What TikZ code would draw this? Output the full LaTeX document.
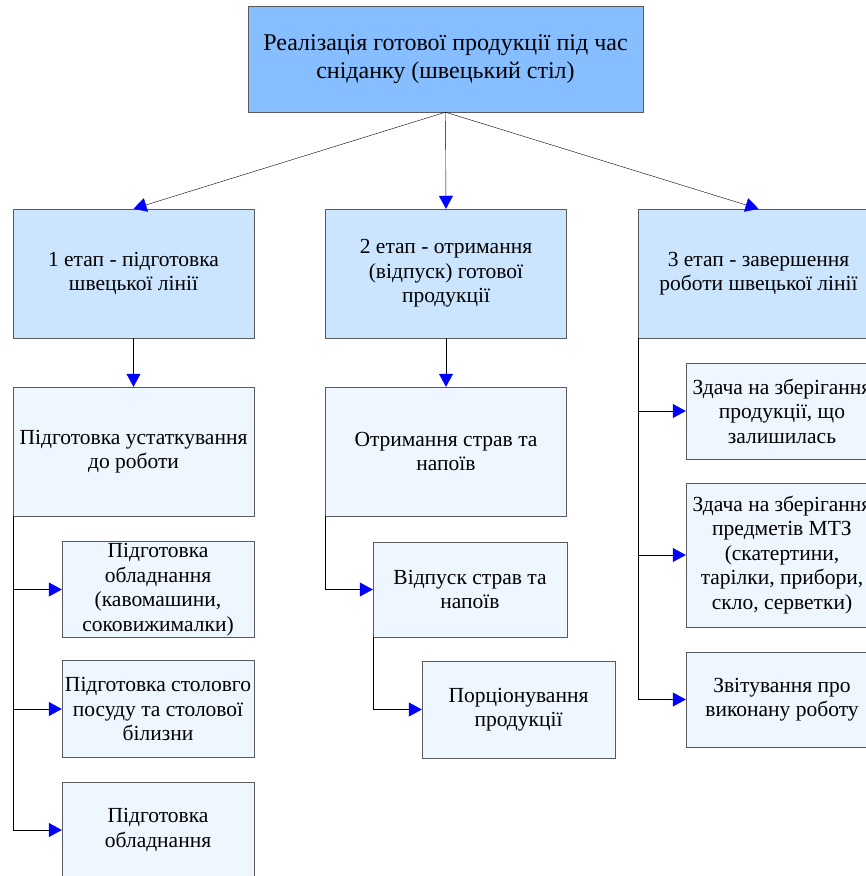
\documentclass[tikz,border=0pt]{standalone}
\usepackage{fontspec}
\setmainfont{Liberation Serif}
\usetikzlibrary{arrows.meta}
\definecolor{mytopcolor}{HTML}{87BEFF}
\definecolor{mystagecolor}{HTML}{CCE5FF}
\definecolor{mystepcolor}{HTML}{EEF6FF}
\definecolor{myedgecolor}{HTML}{5A5A5A}
\tikzset{
  box/.style={draw=myedgecolor, rectangle, align=center, inner sep=0pt, font=\fontsize{21.5pt}{24.5pt}\selectfont},
  arr/.style={draw=black, -{Triangle[color=blue, length=13pt, width=14pt]}},
}

\begin{document}
\begin{tikzpicture}[x=1pt, y=-1pt]%
\useasboundingbox (0, 0) rectangle (866, 876);%
\clip (0, 0) rectangle (866, 876);%
\node[box, fill=mytopcolor, minimum width=395pt, minimum height=106pt, font=\fontsize{24pt}{28pt}\selectfont] (top) at (445.5, 59) {Реалізація готової продукції під час\\сніданку (швецький стіл)};%
\node[box, fill=mystagecolor, minimum width=241pt, minimum height=129pt] (stage1) at (133.5, 273.5) {1 етап - підготовка\\швецької лінії};%
\node[box, fill=mystagecolor, minimum width=241pt, minimum height=129pt] (stage2) at (446, 273.5) {2 етап - отримання\\(відпуск) готової\\продукції};%
\node[box, fill=mystagecolor, minimum width=241pt, minimum height=129pt] (stage3) at (758.5, 273.5) {3 етап - завершення\\роботи швецької лінії};%
\node[box, fill=mystepcolor, minimum width=241pt, minimum height=129pt] (prep) at (133.5, 451.5) {Підготовка устаткування\\до роботи};%
\node[box, fill=mystepcolor, minimum width=241pt, minimum height=129pt] (take) at (446, 451.5) {Отримання страв та\\напоїв};%
\node[box, fill=mystepcolor, minimum width=192pt, minimum height=96pt] (prepa) at (158, 589.5) {Підготовка\\обладнання\\(кавомашини,\\соковижималки)};%
\node[box, fill=mystepcolor, minimum width=192pt, minimum height=97pt] (prepb) at (158, 709) {Підготовка столовго\\посуду та столової\\білизни};%
\node[box, fill=mystepcolor, minimum width=192pt, minimum height=96pt] (prepc) at (158, 830) {Підготовка\\обладнання};%
\node[box, fill=mystepcolor, minimum width=194pt, minimum height=95pt] (serve) at (470, 589.5) {Відпуск страв та\\напоїв};%
\node[box, fill=mystepcolor, minimum width=193pt, minimum height=97pt] (portion) at (518.5, 709.5) {Порціонування\\продукції};%
\node[box, fill=mystepcolor, minimum width=192pt, minimum height=96pt] (backa) at (782, 411) {Здача на зберігання\\продукції, що\\залишилась};%
\node[box, fill=mystepcolor, minimum width=192pt, minimum height=144pt] (backb) at (782, 555) {Здача на зберігання\\предметів МТЗ\\(скатертини,\\тарілки, прибори,\\скло, серветки)};%
\node[box, fill=mystepcolor, minimum width=192pt, minimum height=95pt] (report) at (782, 699.5) {Звітування про\\виконану роботу};%
\draw[arr] (top.south) -- (stage1.north);%
\draw[arr] (top.south) -- (stage2.north);%
\draw[arr] (top.south) -- (stage3.north);%
\draw[arr] (stage1.south) -- (prep.north);%
\draw[arr] (stage2.south) -- (take.north);%
\draw[arr] (prep.south west) |- (prepa.west);%
\draw[arr] (prep.south west) |- (prepb.west);%
\draw[arr] (prep.south west) |- (prepc.west);%
\draw[arr] (take.south west) |- (serve.west);%
\draw[arr] (serve.south west) |- (portion.west);%
\draw[arr] (stage3.south west) |- (backa.west);%
\draw[arr] (stage3.south west) |- (backb.west);%
\draw[arr] (stage3.south west) |- (report.west);%
\end{tikzpicture}
\end{document}
